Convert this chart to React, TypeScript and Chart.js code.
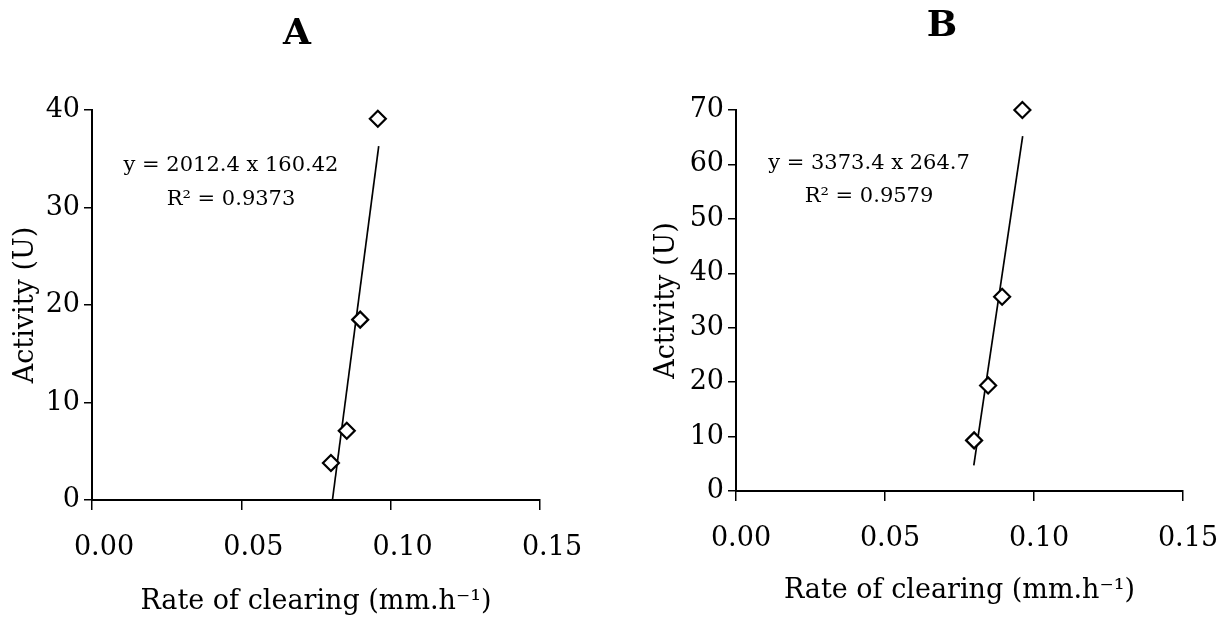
import React, { useEffect, useRef } from "react";
import { Chart, registerables } from "chart.js";

Chart.register(...registerables);

// ---- data ----
const panelTitles = ["A", "B"];
const xTickValues = [0, 0.05, 0.1, 0.15];
const xTitle = "Rate of clearing (mm.h\u207B\u00B9)";
const yTitle = "Activity (U)";

const rateA = [0.08, 0.0853, 0.0898, 0.0957];
const activityA = [3.8, 7.1, 18.5, 39.1];
const fitRateA = [0.0805, 0.096];
const fitActivityA = [0, 36.3];
const yTicksA = [0, 10, 20, 30, 40];
const equationA = ["y = 2012.4 x 160.42", "R\u00B2 = 0.9373"];

const rateB = [0.0799, 0.0846, 0.0893, 0.0961];
const activityB = [9.3, 19.4, 35.7, 70.0];
const fitRateB = [0.0798, 0.0962];
const fitActivityB = [4.7, 65.2];
const yTicksB = [0, 10, 20, 30, 40, 50, 60, 70];
const equationB = ["y = 3373.4 x 264.7", "R\u00B2 = 0.9579"];

// ---- layout (pixels) ----
const FONT = "'DejaVu Serif', serif";
const H = 627;

type Panel = {
  left: number;
  width: number;
  areaLeft: number;
  areaRight: number;
  areaTop: number;
  areaBottom: number;
  titleX: number;
  titleY: number;
  eqX: number;
  eqY: number[];
  yTitlePad: number;
  xTitlePad: number;
  xTickPad: number;
  xLabelOffset: number;
};

const panels: Panel[] = [
  {
    left: 0, width: 610, areaLeft: 92, areaRight: 540, areaTop: 110, areaBottom: 500,
    titleX: 297, titleY: 35, eqX: 231, eqY: [166, 200],
    yTitlePad: 10, xTitlePad: 9, xTickPad: 22, xLabelOffset: 12,
  },
  {
    left: 610, width: 611, areaLeft: 126, areaRight: 573, areaTop: 110, areaBottom: 491,
    titleX: 332, titleY: 27, eqX: 259, eqY: [164, 197],
    yTitlePad: 41, xTitlePad: 20, xTickPad: 22, xLabelOffset: 5,
  },
];

const textPlugin = {
  id: "panelText",
  afterDraw(chart: any, _args: any, opts: any) {
    const ctx = chart.ctx;
    ctx.save();
    ctx.fillStyle = "#000";
    ctx.textAlign = "center";
    ctx.textBaseline = "middle";
    ctx.font = `bold 36px ${FONT}`;
    ctx.fillText(opts.title, opts.titleX, opts.titleY);
    ctx.font = `21px ${FONT}`;
    const lines: string[] = opts.lines;
    lines.forEach((l, i) => ctx.fillText(l, opts.eqX, opts.eqY[i]));
    ctx.restore();
  },
};

function makeConfig(
  p: Panel,
  title: string,
  xs: number[],
  ys: number[],
  fx: number[],
  fy: number[],
  yTicks: number[],
  eq: string[]
): any {
  return {
    type: "scatter",
    data: {
      datasets: [
        {
          data: xs.map((x, i) => ({ x, y: ys[i] })),
          pointStyle: "rectRot",
          pointRadius: 8,
          pointBorderWidth: 2.2,
          pointBackgroundColor: "#fff",
          pointBorderColor: "#000",
          showLine: false,
          clip: false,
        },
        {
          data: fx.map((x, i) => ({ x, y: fy[i] })),
          showLine: true,
          pointRadius: 0,
          borderColor: "#000",
          borderWidth: 1.7,
          clip: false,
        },
      ],
    },
    options: {
      animation: false,
      responsive: false,
      maintainAspectRatio: false,
      devicePixelRatio: 1,
      events: [],
      layout: {
        padding: { top: p.areaTop, left: 0, right: p.width - p.areaRight, bottom: 0 },
      },
      plugins: {
        legend: { display: false },
        tooltip: { enabled: false },
        title: { display: false },
        panelText: {
          title,
          titleX: p.titleX,
          titleY: p.titleY,
          eqX: p.eqX,
          eqY: p.eqY,
          lines: eq,
        },
      },
      scales: {
        x: {
          type: "linear",
          min: xTickValues[0],
          max: xTickValues[xTickValues.length - 1],
          afterBuildTicks: (s: any) => {
            s.ticks = xTickValues.map((v) => ({ value: v }));
          },
          afterFit: (s: any) => {
            s.height = H - p.areaBottom;
            s.paddingLeft = 0;
            s.paddingRight = 0;
          },
          grid: { drawOnChartArea: false, drawTicks: true, tickLength: 10, color: "#000", lineWidth: 1.5 },
          border: { display: true, color: "#000", width: 2 },
          ticks: {
            color: "#000",
            font: { family: FONT, size: 27 },
            padding: p.xTickPad,
            labelOffset: p.xLabelOffset,
            maxRotation: 0,
            autoSkip: false,
            callback: (v: any) => Number(v).toFixed(2),
          },
          title: {
            display: true,
            text: xTitle,
            color: "#000",
            font: { family: FONT, size: 27 },
            padding: { top: 0, bottom: p.xTitlePad },
          },
        },
        y: {
          type: "linear",
          min: yTicks[0],
          max: yTicks[yTicks.length - 1],
          afterBuildTicks: (s: any) => {
            s.ticks = yTicks.map((v) => ({ value: v }));
          },
          afterFit: (s: any) => {
            s.width = p.areaLeft;
            s.paddingTop = 0;
            s.paddingBottom = 0;
          },
          grid: { drawOnChartArea: false, drawTicks: true, tickLength: 8, color: "#000", lineWidth: 1.5 },
          border: { display: true, color: "#000", width: 2 },
          ticks: {
            color: "#000",
            font: { family: FONT, size: 27 },
            padding: 4,
            autoSkip: false,
          },
          title: {
            display: true,
            text: yTitle,
            color: "#000",
            font: { family: FONT, size: 27 },
            padding: { top: p.yTitlePad, bottom: 0 },
          },
        },
      },
    },
    plugins: [textPlugin],
  };
}

function PanelChart({ idx }: { idx: number }) {
  const ref = useRef<HTMLCanvasElement | null>(null);
  const p = panels[idx];
  useEffect(() => {
    if (!ref.current) return;
    const cfg =
      idx === 0
        ? makeConfig(p, panelTitles[0], rateA, activityA, fitRateA, fitActivityA, yTicksA, equationA)
        : makeConfig(p, panelTitles[1], rateB, activityB, fitRateB, fitActivityB, yTicksB, equationB);
    const chart = new Chart(ref.current, cfg);
    return () => chart.destroy();
  }, [idx]);
  return (
    <canvas
      ref={ref}
      width={p.width}
      height={H}
      style={{ position: "absolute", left: p.left, top: 0, width: p.width, height: H }}
    />
  );
}

export default function App() {
  return (
    <div
      style={{
        position: "fixed",
        left: 0,
        top: 0,
        width: 1221,
        height: H,
        background: "#fff",
        overflow: "hidden",
      }}
    >
      <PanelChart idx={0} />
      <PanelChart idx={1} />
    </div>
  );
}
